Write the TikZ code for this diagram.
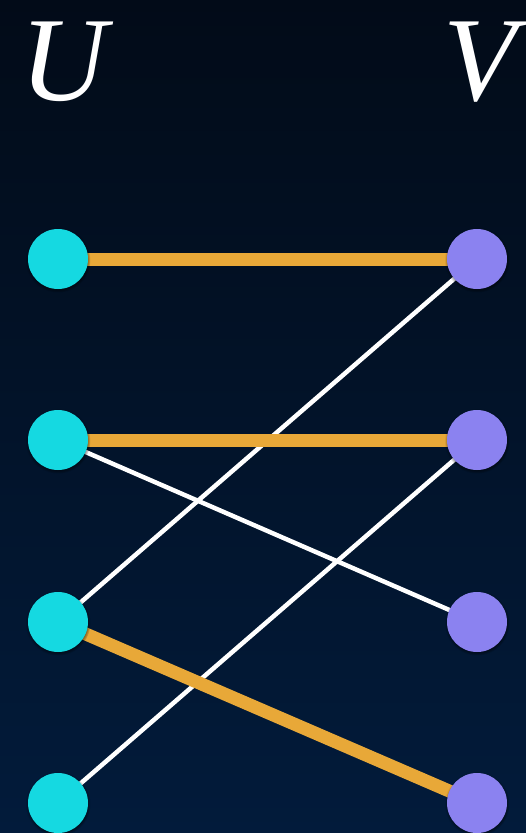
\documentclass[tikz,border=0pt]{standalone}
\usepackage{fontspec}
\newfontfamily\labelfont{Liberation Serif}
\usetikzlibrary{shadows}
\definecolor{bgtop}{HTML}{020B18}
\definecolor{bgbot}{HTML}{021B3B}
\definecolor{ucol}{HTML}{15D9E1}
\definecolor{vcol}{HTML}{8B82F0}
\definecolor{match}{HTML}{E8A838}
\tikzset{
  unode/.style={circle, fill=ucol, minimum size=60pt, inner sep=0pt, circular drop shadow={shadow xshift=0pt, shadow yshift=-1pt, shadow scale=1.08, opacity=0.6, fill=black}},
  vnode/.style={circle, fill=vcol, minimum size=60pt, inner sep=0pt, circular drop shadow={shadow xshift=0pt, shadow yshift=-1pt, shadow scale=1.08, opacity=0.6, fill=black}},
  matchedge/.style={draw=match, line width=13pt},
  plainedge/.style={draw=white, line width=4.5pt},
  setlabel/.style={text=white, inner sep=0pt, font=\labelfont\itshape\fontsize{120}{120}\selectfont}
}
\begin{document}
\begin{tikzpicture}[x=1pt,y=-1pt]
\useasboundingbox (0,0) rectangle (526,833);
\shade[top color=bgtop, bottom color=bgbot] (0,0) rectangle (526,833);
\node[setlabel, anchor=base] (lu) at (64,100) {U};
\node[setlabel, anchor=base] (lv) at (480,100) {V};
\coordinate (u1) at (58,259);
\coordinate (u2) at (58,440);
\coordinate (u3) at (58,622);
\coordinate (u4) at (58,803);
\coordinate (v1) at (477,259);
\coordinate (v2) at (477,440);
\coordinate (v3) at (477,622);
\coordinate (v4) at (477,803);
\path[plainedge] (u2) -- (v3);
\path[plainedge] (u3) -- (v1);
\path[plainedge] (u4) -- (v2);
\path[matchedge] (u1) -- (v1);
\path[matchedge] (u2) -- (v2);
\path[matchedge] (u3) -- (v4);
\node[unode] (nu1) at (u1) {};
\node[unode] (nu2) at (u2) {};
\node[unode] (nu3) at (u3) {};
\node[unode] (nu4) at (u4) {};
\node[vnode] (nv1) at (v1) {};
\node[vnode] (nv2) at (v2) {};
\node[vnode] (nv3) at (v3) {};
\node[vnode] (nv4) at (v4) {};
\end{tikzpicture}
\end{document}
